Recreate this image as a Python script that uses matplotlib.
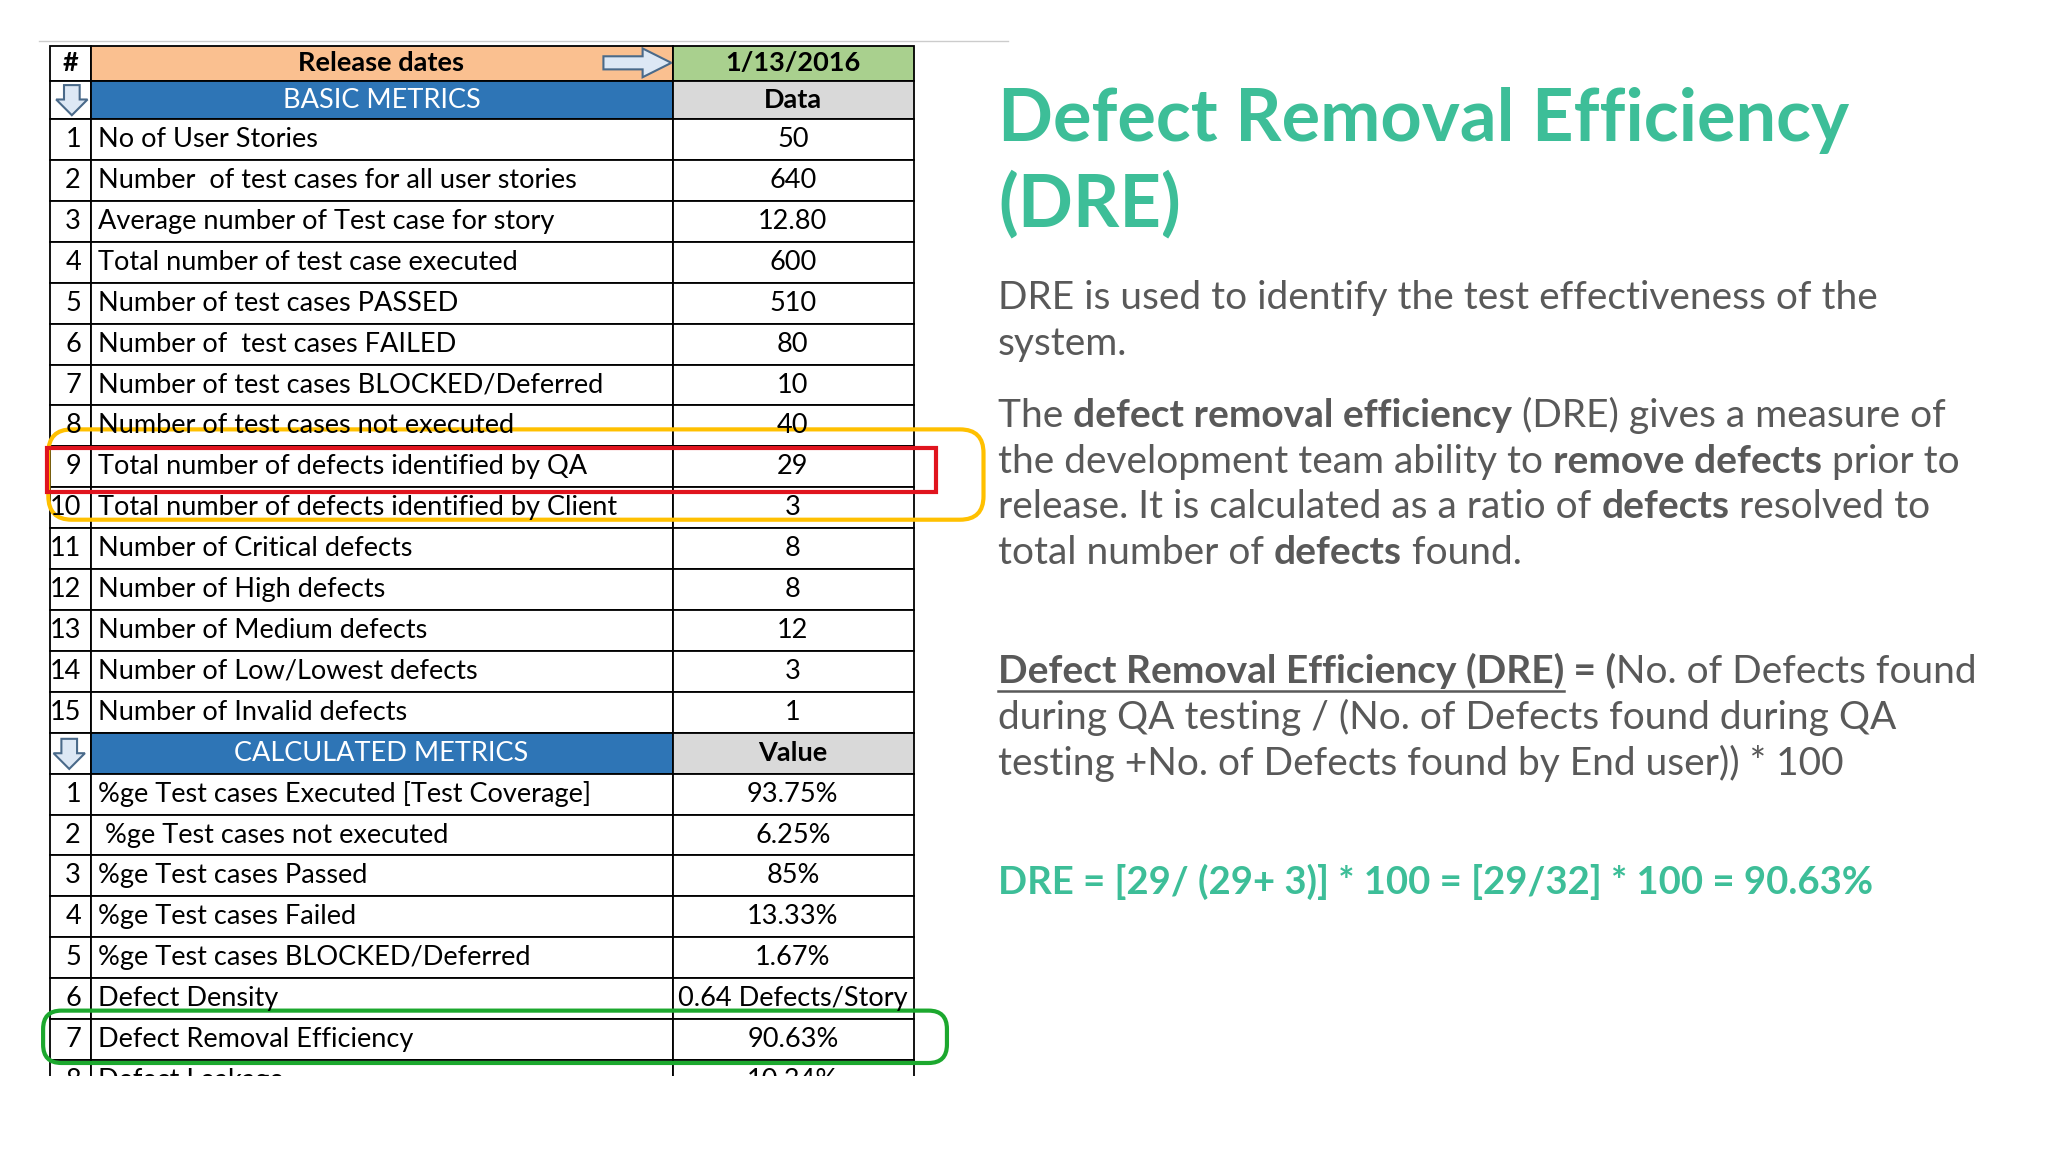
import matplotlib
matplotlib.use("Agg")
import matplotlib.pyplot as plt
from matplotlib.patches import Rectangle, FancyBboxPatch, Polygon

basic_nums = list(range(1, 16))
basic_labels = ["No of User Stories", "Number  of test cases for all user stories",
    "Average number of Test case for story", "Total number of test case executed",
    "Number of test cases PASSED", "Number of  test cases FAILED",
    "Number of test cases BLOCKED/Deferred", "Number of test cases not executed",
    "Total number of defects identified by QA", "Total number of defects identified by Client",
    "Number of Critical defects", "Number of High defects", "Number of Medium defects",
    "Number of Low/Lowest defects", "Number of Invalid defects"]
basic_values = ["50", "640", "12.80", "600", "510", "80", "10", "40", "29", "3", "8", "8", "12", "3", "1"]
calc_nums = list(range(1, 9))
calc_labels = ["%ge Test cases Executed [Test Coverage]", " %ge Test cases not executed",
    "%ge Test cases Passed", "%ge Test cases Failed", "%ge Test cases BLOCKED/Deferred",
    "Defect Density", "Defect Removal Efficiency", "Defect Leakage"]
calc_values = ["93.75%", "6.25%", "85%", "13.33%", "1.67%", "0.64 Defects/Story", "90.63%", "10.34%"]

W, H = 1568, 880
fig = plt.figure(figsize=(20.48, 11.52), dpi=100)
ax = fig.add_axes([0, 0, 1, 1])
ax.set_xlim(0, W); ax.set_ylim(H, 0); ax.axis("off")
FONT = "Lato"
clip = Rectangle((0, 0), W, 822, transform=ax.transData)

x0, x1, x2, x3 = 38, 70, 515, 700
fs = 19.5
ax.plot([30, 772], [31, 31], color="#cccccc", lw=1)

def cell(x, y, w, h, fc="white"):
    r = Rectangle((x, y), w, h, facecolor=fc, edgecolor="black", lw=1.3)
    ax.add_patch(r); r.set_clip_path(clip)

def txt(x, y, s, ha="left", bold=False, color="black", size=fs):
    t = ax.text(x, y, s, ha=ha, va="center", fontsize=size, family=FONT,
                fontweight="bold" if bold else "normal", color=color, clip_on=True)
    t.set_clip_path(clip)

cell(x0, 35, x1 - x0, 27); cell(x1, 35, x2 - x1, 27, "#FAC090"); cell(x2, 35, x3 - x2, 27, "#A9D08E")
txt((x0 + x1) / 2, 48, "#", "center", True)
txt(292, 48, "Release dates", "center", True)
txt(607, 48, "1/13/2016", "center", True)
ax.add_patch(Polygon([(462, 43), (492, 43), (492, 37), (514, 48), (492, 59), (492, 53), (462, 53)],
                     facecolor="#DDE8F5", edgecolor="#4A6A8A", lw=1.5))

def down_arrow(cx, cy):
    ax.add_patch(Polygon([(cx - 6, cy - 11), (cx + 6, cy - 11), (cx + 6, cy), (cx + 12, cy),
                          (cx, cy + 12), (cx - 12, cy), (cx - 6, cy)],
                         facecolor="#DDE8F5", edgecolor="#4A6A8A", lw=1.5))

rh = 31.25
y = 62
cell(x0, y, x1 - x0, 29); cell(x1, y, x2 - x1, 29, "#2E75B6"); cell(x2, y, x3 - x2, 29, "#D9D9D9")
down_arrow(55, y + 14)
txt(292, y + 14.5, "BASIC METRICS", "center", False, "white")
txt(607, y + 14.5, "Data", "center", True)
y = 91
for n, l, v in zip(basic_nums, basic_labels, basic_values):
    cell(x0, y, x1 - x0, rh); cell(x1, y, x2 - x1, rh); cell(x2, y, x3 - x2, rh)
    txt(62, y + rh / 2, str(n), "right"); txt(75, y + rh / 2, l); txt(607, y + rh / 2, v, "center")
    y += rh
cell(x0, y, x1 - x0, rh); cell(x1, y, x2 - x1, rh, "#2E75B6"); cell(x2, y, x3 - x2, rh, "#D9D9D9")
down_arrow(53, y + rh / 2)
txt(292, y + rh / 2, "CALCULATED METRICS", "center", False, "white")
txt(607, y + rh / 2, "Value", "center", True)
y += rh
for n, l, v in zip(calc_nums, calc_labels, calc_values):
    cell(x0, y, x1 - x0, rh); cell(x1, y, x2 - x1, rh); cell(x2, y, x3 - x2, rh)
    txt(62, y + rh / 2, str(n), "right"); txt(75, y + rh / 2, l); txt(607, y + rh / 2, v, "center")
    y += rh

ax.add_patch(FancyBboxPatch((37, 328), 716, 69, boxstyle="round,pad=0,rounding_size=18",
                            facecolor="none", edgecolor="#FFC000", lw=3))
ax.add_patch(Rectangle((36, 342), 681, 34, facecolor="none", edgecolor="#E0141E", lw=3))
ax.add_patch(FancyBboxPatch((33, 772), 692, 40, boxstyle="round,pad=0,rounding_size=14",
                            facecolor="none", edgecolor="#1CA82E", lw=3))

TEAL = "#3DBE98"; GREY = "#595959"
ax.text(764, 92, "Defect Removal Efficiency", fontsize=52, family=FONT, fontweight="bold",
        color=TEAL, va="center")
ax.text(764, 157, "(DRE)", fontsize=52, family=FONT, fontweight="bold", color=TEAL, va="center")

fig.canvas.draw()
rend = fig.canvas.get_renderer()
sx = W / fig.bbox.width

def rich(x, yb, segs, size=28, color=GREY):
    for s, b, u in segs:
        t = ax.text(x, yb, s, fontsize=size, family=FONT, fontweight="bold" if b else "normal",
                    color=color, va="baseline")
        w = t.get_window_extent(rend).width * sx
        if u:
            ax.plot([x, x + w], [yb + 6, yb + 6], color=color, lw=1.8)
        x += w

R = 764
rich(R, 236, [("DRE is used to identify the test effectiveness of the", 0, 0)])
rich(R, 271, [("system.", 0, 0)])
rich(R, 326, [("The ", 0, 0), ("defect removal efficiency", 1, 0), (" (DRE) gives a measure of", 0, 0)])
rich(R, 361, [("the development team ability to ", 0, 0), ("remove defects", 1, 0), (" prior to", 0, 0)])
rich(R, 396, [("release. It is calculated as a ratio of ", 0, 0), ("defects", 1, 0), (" resolved to", 0, 0)])
rich(R, 431, [("total number of ", 0, 0), ("defects", 1, 0), (" found.", 0, 0)])
rich(R, 522, [("Defect Removal Efficiency (DRE)", 1, 1), (" = (", 1, 0), ("No. of Defects found", 0, 0)])
rich(R, 557, [("during QA testing / (No. of Defects found during QA", 0, 0)])
rich(R, 592, [("testing +No. of Defects found by End user)) * 100", 0, 0)])
rich(R, 683, [("DRE = [29/ (29+ 3)] * 100 = [29/32] * 100 = 90.63%", 1, 0)], size=27.5, color=TEAL)

fig.savefig("out.png", dpi=100)
